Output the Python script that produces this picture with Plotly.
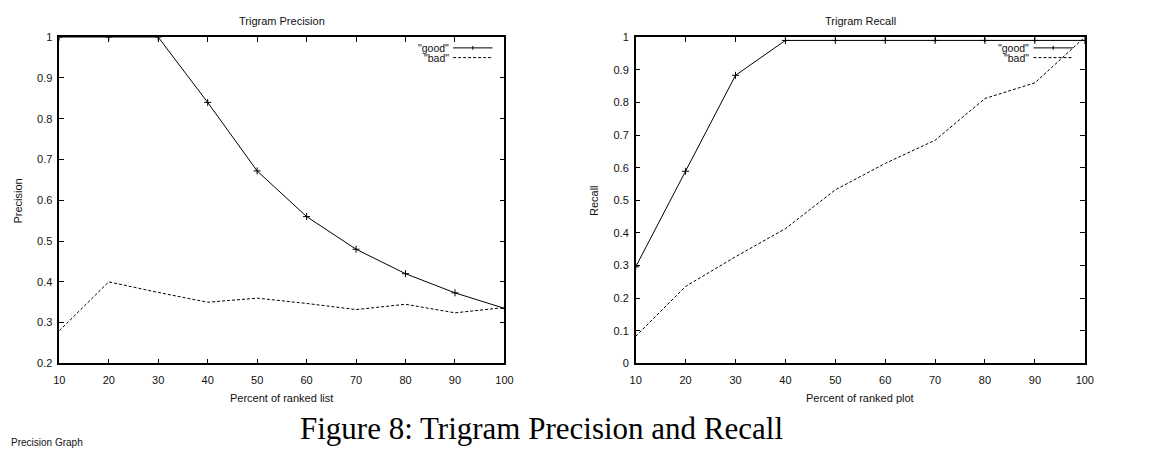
import plotly.graph_objects as go

# Percent of the ranked list / plot that was examined
percent = [10, 20, 30, 40, 50, 60, 70, 80, 90, 100]

# Trigram precision
precision_good = [1.0, 1.0, 1.0, 0.84, 0.672, 0.56, 0.48, 0.42, 0.373, 0.335]
precision_bad = [0.28, 0.40, 0.374, 0.35, 0.36, 0.347, 0.332, 0.345, 0.324, 0.337]

# Trigram recall
recall_good = [0.296, 0.589, 0.883, 0.99, 0.99, 0.99, 0.99, 0.99, 0.99, 0.99]
recall_bad = [0.083, 0.236, 0.327, 0.413, 0.532, 0.613, 0.684, 0.812, 0.86, 1.0]

series_names = ['"good"', '"bad"']
panel_titles = ["Trigram Precision", "Trigram Recall"]
x_titles = ["Percent of ranked list", "Percent of ranked plot"]
y_titles = ["Precision", "Recall"]
caption = "Figure 8: Trigram Precision and Recall"
footer = "Precision Graph"

W, H = 1154, 459
SANS = "Liberation Sans, Arial, Helvetica, sans-serif"
SERIF = "Liberation Serif, Times New Roman, serif"


def px(x):
    return x / W


def py(y):
    return 1 - y / H


good_line = dict(color="black", width=1)
bad_line = dict(color="black", width=1, dash="3px,2px")
cross = dict(symbol="cross-thin", size=5, line=dict(color="black", width=1))

fig = go.Figure()
fig.add_trace(go.Scatter(x=percent, y=precision_good, mode="lines+markers",
                         line=good_line, marker=cross, xaxis="x", yaxis="y",
                         name=series_names[0], showlegend=False))
fig.add_trace(go.Scatter(x=percent, y=precision_bad, mode="lines",
                         line=bad_line, xaxis="x", yaxis="y",
                         name=series_names[1], showlegend=False))
fig.add_trace(go.Scatter(x=percent, y=recall_good, mode="lines+markers",
                         line=good_line, marker=cross, xaxis="x2", yaxis="y2",
                         name=series_names[0], showlegend=False))
fig.add_trace(go.Scatter(x=percent, y=recall_bad, mode="lines",
                         line=bad_line, xaxis="x2", yaxis="y2",
                         name=series_names[1], showlegend=False))

axis_common = dict(showline=True, linecolor="black", linewidth=1.5, mirror="ticks",
                   ticks="inside", ticklen=5, tickwidth=1, tickcolor="black",
                   showgrid=False, zeroline=False,
                   tickfont=dict(family=SANS, size=11, color="#111"))

y_bottom, y_top = 367, 32
panels = [(54, 505), (638, 1093)]

fig.update_layout(
    width=W, height=H,
    margin=dict(l=0, r=0, t=0, b=0),
    paper_bgcolor="white", plot_bgcolor="white",
    xaxis=dict(domain=[px(54), px(505)], range=[10, 100], dtick=10,
               anchor="y", ticklabelstandoff=6, **axis_common),
    yaxis=dict(domain=[py(y_bottom), py(y_top)], range=[0.2, 1], dtick=0.1,
               anchor="x", ticklabelstandoff=3, **axis_common),
    xaxis2=dict(domain=[px(638), px(1093)], range=[10, 100], dtick=10,
                anchor="y2", ticklabelstandoff=6, **axis_common),
    yaxis2=dict(domain=[py(y_bottom), py(y_top)], range=[0, 1], dtick=0.1,
                anchor="x2", ticklabelstandoff=3, **axis_common),
)

annotations = []
shapes = []
ylab_x = [12, 596]
for i, (x0, x1) in enumerate(panels):
    cx = (x0 + x1) / 2
    annotations.append(dict(text=panel_titles[i], x=px(cx), y=py(15), xref="paper",
                            yref="paper", showarrow=False, xanchor="center",
                            yanchor="middle", font=dict(family=SANS, size=11, color="#111")))
    annotations.append(dict(text=x_titles[i], x=px(cx), y=py(403), xref="paper",
                            yref="paper", showarrow=False, xanchor="center",
                            yanchor="middle", font=dict(family=SANS, size=11, color="#111")))
    annotations.append(dict(text=y_titles[i], x=px(ylab_x[i]), y=py(200), xref="paper",
                            yref="paper", showarrow=False, textangle=-90,
                            xanchor="center", yanchor="middle",
                            font=dict(family=SANS, size=11, color="#111")))

    # key: labels to the left of the line samples, in the upper right corner
    text_right = x1 - 54
    key_x0, key_x1 = x1 - 52, x1 - 12
    for j, yy in enumerate([43, 53]):
        annotations.append(dict(text=series_names[j], x=px(text_right), y=py(yy),
                                xref="paper", yref="paper", showarrow=False,
                                xanchor="right", yanchor="middle",
                                font=dict(family=SANS, size=10.5, color="#111")))
        shapes.append(dict(type="line", xref="paper", yref="paper",
                           x0=px(key_x0), x1=px(key_x1), y0=py(yy), y1=py(yy),
                           line=good_line if j == 0 else bad_line))
    mid = (key_x0 + key_x1) / 2
    shapes.append(dict(type="line", xref="paper", yref="paper",
                       x0=px(mid), x1=px(mid), y0=py(41), y1=py(45),
                       line=dict(color="black", width=1)))

annotations.append(dict(text=caption, x=px(543), y=py(434), xref="paper", yref="paper",
                        showarrow=False, xanchor="center", yanchor="middle",
                        font=dict(family=SERIF, size=31, color="black")))
annotations.append(dict(text=footer, x=px(3), y=py(448), xref="paper", yref="paper",
                        showarrow=False, xanchor="left", yanchor="middle",
                        font=dict(family=SANS, size=10, color="#111")))

fig.update_layout(annotations=annotations, shapes=shapes)
fig.write_html("out.html")
